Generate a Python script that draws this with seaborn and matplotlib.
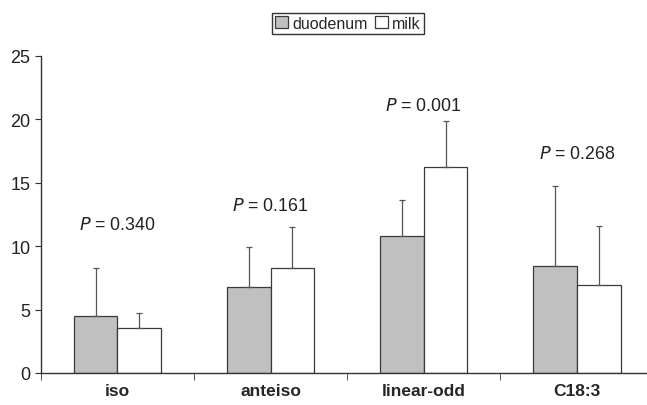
import matplotlib
matplotlib.use("Agg")
import matplotlib.pyplot as plt
import seaborn as sns
import pandas as pd
import numpy as np

categories = ["iso", "anteiso", "linear-odd", "C18:3"]
groups = ["duodenum", "milk"]
duodenum = [4.5, 6.8, 10.8, 8.4]
milk = [3.55, 8.3, 16.25, 6.9]
duodenum_sd = [3.75, 3.1, 2.85, 6.3]
milk_sd = [1.15, 3.2, 3.6, 4.7]
p_labels = ["0.340", "0.161", "0.001", "0.268"]
p_heights = [11.7, 13.2, 21.1, 17.3]

df = pd.DataFrame({
    "category": categories * 2,
    "group": [groups[0]] * 4 + [groups[1]] * 4,
    "value": duodenum + milk,
})
sds = {groups[0]: duodenum_sd, groups[1]: milk_sd}

sns.set_style("ticks")
plt.rcParams["font.family"] = ["Liberation Sans", "DejaVu Sans"]

fig = plt.figure(figsize = (6.47, 4.06), dpi = 100)
ax = fig.add_axes([0.063, 0.079, 0.947, 0.781])

palette = {"duodenum": "#c0c0c0", "milk": "white"}
sns.barplot(data = df, x = "category", y = "value", hue = "group", palette = palette,
            order = categories, hue_order = groups, width = 0.57, errorbar = None,
            edgecolor = "#3a3a3a", linewidth = 0.9, ax = ax)

# upward-only error bars
for cont, g in zip(ax.containers, groups):
    for bar, sd in zip(cont, sds[g]):
        xc = bar.get_x() + bar.get_width() / 2
        top = bar.get_height()
        ax.errorbar(xc, top, yerr = [[0], [sd]], fmt = "none", ecolor = "#555555",
                    elinewidth = 0.9, capsize = 2.5, capthick = 0.9, zorder = 1)

for i, (p, h) in enumerate(zip(p_labels, p_heights)):
    ax.text(i, h, r"$\it{P}$" + f" = {p}", ha = "center", va = "center", fontsize = 12.8,
            color = "#222222")

ax.set_ylim(0, 25)
ax.set_xlim(-0.5, 3.5)
ax.set_yticks(range(0, 26, 5))
ax.set_xticks(range(len(categories)))
ax.set_xticklabels(categories, fontweight = "bold", fontsize = 12.5)
ax.tick_params(axis = "x", length = 0, pad = 7)
ax.set_xticks(np.arange(-0.5, 4, 1), minor = True)
ax.tick_params(axis = "x", which = "minor", length = 5, direction = "out", color = "#333333")
ax.tick_params(axis = "y", labelsize = 13, length = 4, color = "#333333", labelcolor = "#222222")
ax.set_xlabel("")
ax.set_ylabel("")
for s in ["top", "right"]:
    ax.spines[s].set_visible(False)
for s in ["left", "bottom"]:
    ax.spines[s].set_color("#333333")
    ax.spines[s].set_linewidth(1.0)

leg = ax.legend(loc = "center", bbox_to_anchor = (0.538, 0.94), bbox_transform = fig.transFigure,
                ncol = 2, frameon = True, fancybox = False, fontsize = 11.5,
                handlelength = 0.8, handleheight = 0.8, handletextpad = 0.25,
                columnspacing = 0.5, borderpad = 0.2, borderaxespad = 0)
leg.get_frame().set_edgecolor("black")
leg.get_frame().set_linewidth(1.0)

fig.savefig("out.png", dpi = 100)
